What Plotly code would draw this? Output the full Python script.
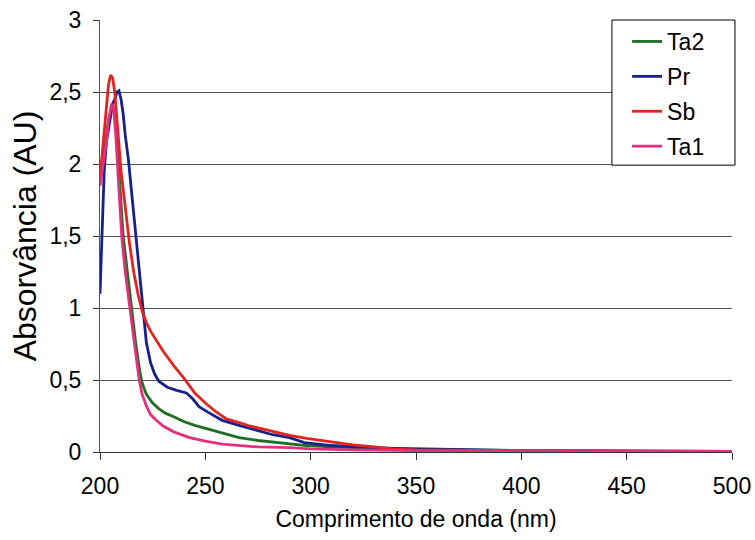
import plotly.graph_objects as go

# Ta2 (green)
ta2_x = [200, 201, 202, 203, 204, 205, 206, 207, 208, 209, 210, 211, 213, 215, 217, 219, 220, 222, 225, 228, 231, 235, 240, 245, 250, 258, 266, 275, 290, 298, 310, 321, 340, 380, 420, 460, 500]
ta2_y = [1.9, 2.0, 2.1, 2.2, 2.3, 2.36, 2.4, 2.38, 2.2, 1.95, 1.7, 1.5, 1.25, 1.0, 0.75, 0.55, 0.48, 0.4, 0.34, 0.3, 0.27, 0.245, 0.21, 0.185, 0.165, 0.135, 0.1, 0.08, 0.056, 0.045, 0.035, 0.028, 0.02, 0.012, 0.008, 0.006, 0.004]

# Pr (blue)
pr_x = [200, 201, 202, 203, 204, 206, 207, 208, 209, 210, 211, 212, 213.5, 215, 217, 219, 220.4, 222, 224, 226, 228, 232, 236, 241, 244, 247, 252, 258, 266, 275, 282, 290, 297, 310, 321, 340, 360, 380, 400, 450, 500]
pr_y = [1.1, 1.5, 1.95, 2.15, 2.25, 2.42, 2.45, 2.5, 2.51, 2.45, 2.35, 2.2, 2.03, 1.8, 1.5, 1.2, 1.0, 0.76, 0.62, 0.54, 0.49, 0.45, 0.43, 0.41, 0.37, 0.315, 0.27, 0.22, 0.185, 0.15, 0.12, 0.1, 0.065, 0.045, 0.035, 0.025, 0.02, 0.015, 0.01, 0.006, 0.004]

# Sb (red)
sb_x = [200, 201, 202, 203, 204, 205, 206, 207, 208, 209, 210, 212, 214, 216, 218, 220, 222, 224, 226, 228, 230, 235, 240, 245, 250, 255, 260, 266, 270, 280, 290, 298, 310, 320, 329, 340, 350, 380, 420, 460, 500]
sb_y = [1.9, 2.05, 2.2, 2.4, 2.55, 2.62, 2.6, 2.5, 2.3, 2.1, 1.95, 1.7, 1.45, 1.25, 1.1, 0.98, 0.9, 0.84, 0.79, 0.75, 0.7, 0.6, 0.51, 0.41, 0.34, 0.28, 0.23, 0.205, 0.185, 0.15, 0.115, 0.095, 0.07, 0.05, 0.037, 0.02, 0.015, 0.01, 0.007, 0.005, 0.004]

# Ta1 (pink)
ta1_x = [200, 201, 202, 203, 204, 205, 205.5, 206.5, 207.5, 208.5, 209.5, 210.3, 212, 214.2, 216.5, 218.6, 220, 222, 224, 226.7, 230, 235, 242.5, 250, 258, 266, 275, 290, 300, 320, 350, 400, 450, 500]
ta1_y = [1.85, 1.95, 2.05, 2.15, 2.3, 2.38, 2.42, 2.38, 2.2, 1.95, 1.7, 1.5, 1.25, 1.0, 0.72, 0.5, 0.4, 0.32, 0.26, 0.22, 0.18, 0.14, 0.1, 0.075, 0.055, 0.045, 0.035, 0.03, 0.022, 0.015, 0.01, 0.007, 0.005, 0.004]

series = [
    ("Ta2", ta2_x, ta2_y, "#1e6e24"),
    ("Pr", pr_x, pr_y, "#16218a"),
    ("Sb", sb_x, sb_y, "#e3241e"),
    ("Ta1", ta1_x, ta1_y, "#e2307e"),
]

fig = go.Figure()
for name, xs, ys, col in series:
    fig.add_trace(go.Scatter(x=xs, y=ys, mode="lines", name=name, legendgroup=name,
                             line=dict(color=col, width=2.8)))

# legend frame
fig.add_shape(type="rect", xref="paper", yref="paper", x0=0.810, x1=1.0047, y0=0.664, y1=1.0,
              line=dict(color="black", width=1), fillcolor="white", layer="above")

font = "Liberation Sans, Arial, sans-serif"
fig.update_layout(
    width=755, height=540,
    margin=dict(l=100, r=23, t=20, b=88),
    paper_bgcolor="white", plot_bgcolor="white",
    separators=",.",
    font=dict(family=font, size=22, color="black"),
    showlegend=True,
    legend=dict(x=0.834, y=1.0, xanchor="left", yanchor="top",
                borderwidth=0, bgcolor="rgba(0,0,0,0)",
                font=dict(size=23), traceorder="grouped", tracegroupgap=2),
    xaxis=dict(range=[200, 500], dtick=50, tick0=200, showgrid=False, automargin=False,
               showline=True, linecolor="#333", linewidth=1,
               ticks="outside", ticklen=7, tickcolor="#333",
               tickfont=dict(size=23), ticklabelstandoff=6, ticklabeloverflow="allow",
               title=dict(text="Comprimento de onda (nm)", font=dict(size=23), standoff=13),
               zeroline=False),
    yaxis=dict(range=[0, 3.002], dtick=0.5, tick0=0, showgrid=True, gridcolor="#555", gridwidth=1,
               automargin=False,
               showline=True, linecolor="#5a4a78", linewidth=1,
               ticks="outside", ticklen=6, tickcolor="#333",
               tickfont=dict(size=23), ticklabelstandoff=7, ticklabeloverflow="allow",
               title=dict(text="Absorvância (AU)", font=dict(size=32), standoff=3),
               zeroline=False),
)

fig.write_html("out.html",
               config={"displayModeBar": False},
               post_script="document.body.style.margin='0';document.body.style.overflow='hidden';")
